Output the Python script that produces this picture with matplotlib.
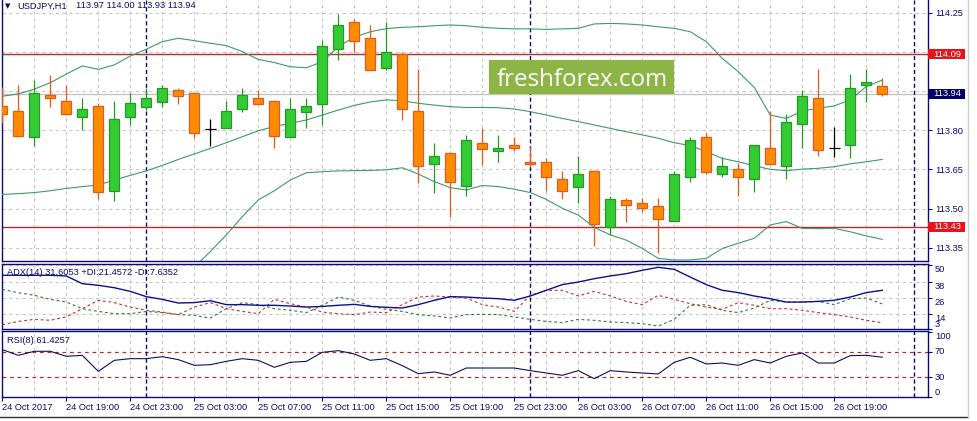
import matplotlib.pyplot as plt
from matplotlib.lines import Line2D
from matplotlib.patches import Rectangle

# USDJPY H1, bars from 24 Oct 15:00 to 26 Oct 22:00
opens = [113.893, 113.873, 113.773, 113.933, 113.910, 113.852, 113.891, 113.568, 113.852, 113.890,
         113.909, 113.953, 113.941, 113.803, 113.810, 113.880, 113.922, 113.910, 113.773, 113.871,
         113.902, 114.112, 114.213, 114.152, 114.039, 114.091, 113.873, 113.669, 113.711, 113.588,
         113.750, 113.722, 113.742, 113.679, 113.679, 113.612, 113.581, 113.644, 113.430, 113.531,
         113.520, 113.511, 113.451, 113.619, 113.773, 113.631, 113.650, 113.612, 113.730, 113.662,
         113.822, 113.922, 113.733, 113.742, 113.973, 113.970]
highs = [113.964, 113.973, 113.992, 114.011, 113.972, 113.922, 113.903, 113.912, 113.941, 113.963,
         113.973, 113.960, 113.941, 113.843, 113.912, 113.960, 113.954, 113.910, 113.922, 113.922,
         114.145, 114.244, 114.226, 114.203, 114.214, 114.101, 114.034, 113.750, 113.711, 113.781,
         113.807, 113.781, 113.775, 113.737, 113.692, 113.644, 113.701, 113.648, 113.549, 113.539,
         113.539, 113.539, 113.644, 113.773, 113.791, 113.699, 113.673, 113.742, 113.873, 113.861,
         113.954, 114.034, 113.811, 114.015, 114.034, 114.000]
lows = [113.829, 113.773, 113.741, 113.890, 113.858, 113.801, 113.536, 113.530, 113.820, 113.877,
        113.890, 113.900, 113.771, 113.741, 113.807, 113.871, 113.902, 113.730, 113.773, 113.810,
        113.820, 114.069, 114.099, 114.032, 114.032, 113.839, 113.599, 113.561, 113.469, 113.549,
        113.667, 113.679, 113.722, 113.660, 113.568, 113.536, 113.520, 113.358, 113.399, 113.450,
        113.488, 113.328, 113.451, 113.600, 113.632, 113.619, 113.549, 113.562, 113.669, 113.612,
        113.730, 113.700, 113.699, 113.692, 113.909, 113.930]
closes = [113.861, 113.779, 113.941, 113.922, 113.861, 113.880, 113.562, 113.842, 113.903, 113.922,
          113.960, 113.932, 113.791, 113.803, 113.874, 113.933, 113.902, 113.779, 113.880, 113.891,
          114.121, 114.202, 114.143, 114.032, 114.101, 113.880, 113.662, 113.700, 113.600, 113.761,
          113.728, 113.732, 113.731, 113.669, 113.619, 113.568, 113.632, 113.439, 113.538, 113.514,
          113.501, 113.459, 113.631, 113.761, 113.641, 113.662, 113.619, 113.742, 113.669, 113.830,
          113.932, 113.723, 113.733, 113.960, 113.983, 113.940]

bb_upper = [113.930, 113.939, 113.957, 113.982, 114.015, 114.046, 114.033, 114.050, 114.084, 114.110,
            114.139, 114.152, 114.143, 114.133, 114.124, 114.101, 114.071, 114.059, 114.043, 114.039,
            114.062, 114.120, 114.156, 114.177, 114.189, 114.194, 114.196, 114.200, 114.203, 114.200,
            114.194, 114.190, 114.188, 114.188, 114.186, 114.188, 114.190, 114.207, 114.209, 114.207,
            114.203, 114.196, 114.190, 114.177, 114.139, 114.075, 114.024, 113.964, 113.858, 113.845,
            113.873, 113.884, 113.893, 113.916, 113.967, 113.992]
bb_middle = [113.554, 113.557, 113.561, 113.568, 113.577, 113.584, 113.590, 113.609, 113.627, 113.644,
             113.665, 113.688, 113.709, 113.730, 113.752, 113.775, 113.798, 113.814, 113.826, 113.839,
             113.858, 113.877, 113.895, 113.908, 113.916, 113.913, 113.903, 113.896, 113.890, 113.887,
             113.887, 113.886, 113.881, 113.871, 113.858, 113.845, 113.833, 113.820, 113.807, 113.794,
             113.782, 113.769, 113.752, 113.741, 113.718, 113.692, 113.679, 113.664, 113.650, 113.645,
             113.651, 113.654, 113.660, 113.671, 113.679, 113.688]
bb_lower = [113.178, 113.175, 113.165, 113.154, 113.139, 113.122, 113.147, 113.168, 113.170, 113.178,
            113.191, 113.224, 113.275, 113.335, 113.399, 113.469, 113.533, 113.568, 113.609, 113.637,
            113.641, 113.644, 113.645, 113.646, 113.648, 113.656, 113.632, 113.603, 113.580, 113.571,
            113.588, 113.584, 113.574, 113.561, 113.535, 113.501, 113.475, 113.428, 113.399, 113.379,
            113.347, 113.309, 113.303, 113.303, 113.309, 113.347, 113.367, 113.386, 113.437, 113.450,
            113.424, 113.423, 113.424, 113.411, 113.395, 113.382]

adx = [42.7, 42.7, 42.7, 42.7, 42.2, 36.5, 35.3, 33.5, 30.8, 26.9,
       24.9, 22.2, 22.5, 23.9, 21.0, 21.0, 20.5, 20.5, 20.0, 19.2,
       19.7, 20.5, 21.2, 19.7, 19.0, 18.5, 21.0, 24.2, 26.9, 26.6,
       25.9, 25.4, 24.2, 27.4, 31.6, 35.8, 37.7, 40.2, 42.2, 43.9,
       46.4, 48.6, 47.1, 41.4, 35.8, 31.6, 29.9, 27.4, 25.4, 22.9,
       22.9, 23.4, 24.2, 26.6, 29.9, 31.6]
plus_di = [32.3, 29.8, 27.9, 24.9, 22.9, 18.0, 16.0, 14.3, 14.3, 16.0,
           15.1, 13.6, 13.1, 11.1, 18.0, 22.5, 21.0, 18.0, 16.8, 15.1,
           20.5, 26.6, 24.2, 20.0, 17.5, 16.0, 13.6, 12.6, 11.1, 13.6,
           13.8, 13.6, 11.9, 10.1, 8.6, 7.7, 10.1, 9.4, 8.2, 7.7,
           6.9, 5.2, 10.1, 20.5, 21.0, 16.8, 15.1, 18.5, 24.2, 22.9,
           22.9, 23.4, 21.0, 25.4, 25.9, 21.5]
minus_di = [6.2, 8.6, 10.1, 9.4, 11.9, 18.0, 24.2, 22.5, 19.2, 16.8,
            15.5, 13.6, 19.2, 22.5, 18.0, 16.0, 14.3, 24.9, 21.7, 19.2,
            15.5, 14.3, 13.6, 15.5, 15.1, 21.0, 26.6, 27.4, 26.6, 25.9,
            21.0, 19.2, 16.0, 27.9, 31.6, 31.6, 27.4, 30.8, 27.4, 23.4,
            21.0, 27.9, 24.9, 21.7, 19.2, 17.5, 22.5, 20.5, 18.0, 18.0,
            16.8, 15.1, 13.6, 11.9, 9.4, 7.6]
rsi = [73.2, 64.3, 70.6, 70.6, 62.8, 64.3, 39.3, 56.5, 59.1, 59.1,
       62.2, 57.6, 48.7, 49.7, 54.9, 59.1, 56.5, 45.6, 53.4, 54.9,
       69.0, 71.6, 66.4, 56.5, 59.1, 48.2, 35.7, 38.3, 33.1, 44.5,
       44.5, 44.5, 44.5, 40.4, 36.7, 33.1, 40.4, 27.9, 40.4, 38.3,
       36.7, 35.2, 53.4, 61.3, 50.8, 52.3, 48.7, 57.6, 52.3, 62.8,
       68.0, 52.3, 52.3, 63.8, 64.3, 61.4]

time_labels = ["24 Oct 2017", "24 Oct 19:00", "24 Oct 23:00", "25 Oct 03:00", "25 Oct 07:00",
               "25 Oct 11:00", "25 Oct 15:00", "25 Oct 19:00", "25 Oct 23:00", "26 Oct 03:00",
               "26 Oct 07:00", "26 Oct 11:00", "26 Oct 15:00", "26 Oct 19:00"]
day_breaks = [9, 33, 57]  # bar index of midnight
price_ticks = [114.25, 114.10, 113.95, 113.80, 113.65, 113.50, 113.35]
price_tick_labels = ["114.25", "", "", "113.80", "113.65", "113.50", "113.35"]
resistance = 114.09
support = 113.43
last_price = 113.94
adx_levels = [50, 38, 26, 14, 3]
rsi_levels = [70, 30]
rsi_ticks = [100, 70, 30, 0]

NAVY = "#0c0c70"
GRID = "#c8c8c8"
BULL, BULL_EDGE = "#33cc33", "#239a23"
BEAR, BEAR_EDGE = "#ff8c00", "#e8581a"
BAND = "#3d9a6b"
LEVEL_RED = "#c0282d"

plt.rcParams["font.family"] = ["Liberation Sans", "DejaVu Sans"]
plt.rcParams["font.size"] = 6.7

W, H = 977, 421
fig = plt.figure(figsize=(W / 100, H / 100), dpi=100)


def panel(top, bottom):
    # rows in pixels -> figure fraction, every panel spans the same columns
    return fig.add_axes([2 / W, 1 - bottom / H, 926 / W, (bottom - top) / H])


def style_panel(ax):
    ax.set_xlim(-0.02, 57.86)
    for k in range(0, 58, 2):
        ax.axvline(k, color=GRID, lw=0.8, ls=(0, (3, 3)), zorder=0)
    for k in day_breaks:
        ax.axvline(k, color=NAVY, lw=1, ls=(0, (3, 2)), zorder=2)
    ax.yaxis.tick_right()
    ax.tick_params(axis="y", colors=NAVY, length=3, width=0.8, pad=2, labelsize=6.7)
    ax.tick_params(axis="x", bottom=False, labelbottom=False)
    for spine in ax.spines.values():
        spine.set_color(NAVY)
        spine.set_linewidth(1)


def price_box(ax, value, text, color):
    lo, hi = ax.get_ylim()
    half = 5 * (hi - lo) / 261
    ax.add_patch(Rectangle((1.0005, value - half), 37 / 926, 2 * half, transform=ax.get_yaxis_transform(),
                           fc=color, ec="none", clip_on=False, zorder=6))
    ax.text(1.0054, value, text, transform=ax.get_yaxis_transform(), color="white",
            va="center", ha="left", zorder=7, clip_on=False)


def draw_candles(ax):
    for i in range(len(opens)):
        o, h, l, c = opens[i], highs[i], lows[i], closes[i]
        if c == o:
            ax.vlines(i, l, h, color="black", lw=0.9, zorder=4)
            ax.hlines(c, i - 0.34, i + 0.34, color="black", lw=0.9, zorder=4)
            continue
        up = c > o
        edge = BULL_EDGE if up else BEAR_EDGE
        ax.vlines(i, l, h, color=edge, lw=0.9, zorder=4)
        ax.bar(i, abs(c - o), width=0.62, bottom=min(o, c), color=BULL if up else BEAR,
               edgecolor=edge, lw=0.9, zorder=5)


# price panel
ax = panel(0, 261)
style_panel(ax)
ax.spines["top"].set_visible(False)
ax.set_ylim(113.299, 114.2986)
for level in price_ticks:
    ax.axhline(level, color=GRID, lw=0.8, ls=(0, (3, 3)), zorder=0)
ax.set_yticks(price_ticks, price_tick_labels)
ax.axhline(last_price, color="#c4c4c4", lw=1, zorder=1)
ax.axhline(resistance, color=LEVEL_RED, lw=1, zorder=1)
ax.axhline(support, color=LEVEL_RED, lw=1, zorder=1)
bars = range(len(opens))
for band in (bb_upper, bb_middle, bb_lower):
    ax.plot(bars, band, color=BAND, lw=0.8, zorder=3)
draw_candles(ax)
price_box(ax, resistance, f"{resistance:.2f}", "#e8141b")
price_box(ax, support, f"{support:.2f}", "#e8141b")
price_box(ax, last_price, f"{last_price:.2f}", "#000066")

# ADX panel
ax_adx = panel(263.5, 329)
style_panel(ax_adx)
ax_adx.set_ylim(2.98, 51.42)
for level in adx_levels[:-1]:
    ax_adx.axhline(level, color=GRID, lw=0.8, ls=(0, (3, 3)), zorder=0)
ax_adx.set_yticks(adx_levels, [str(v) for v in adx_levels])
for lbl in ax_adx.get_yticklabels():
    lbl.set_verticalalignment("bottom" if lbl.get_text() == "3" else "top")
ax_adx.plot(bars, plus_di, color="#2e7d32", lw=0.8, ls=(0, (2.5, 2.5)), zorder=3)
ax_adx.plot(bars, minus_di, color="#cc2a2a", lw=0.8, ls=(0, (2.5, 2.5)), zorder=3)
ax_adx.plot(bars, adx, color="#10108c", lw=1, zorder=4)

# RSI panel
ax_rsi = panel(331, 397)
style_panel(ax_rsi)
ax_rsi.set_ylim(-0.78, 102.3)
for level in rsi_levels:
    ax_rsi.axhline(level, color="#b03030", lw=0.9, ls=(0, (3, 3)), zorder=1)
ax_rsi.set_yticks(rsi_ticks, [str(v) for v in rsi_ticks])
for lbl, va in zip(ax_rsi.get_yticklabels(), ["top", "center", "center", "bottom"]):
    lbl.set_verticalalignment(va)
ax_rsi.plot(bars, rsi, color="#10105a", lw=0.8, zorder=3)
ax_rsi.set_xticks(range(0, 4 * len(time_labels), 4), time_labels, ha="left")
ax_rsi.tick_params(axis="x", bottom=True, labelbottom=True, colors=NAVY, length=3, width=0.8, pad=1.5)

# headers
fig.text(5 / W, 1 - 6 / H, "\u25bc", family="DejaVu Sans", fontsize=5, color=NAVY, va="center")
fig.text(17 / W, 1 - 6 / H, "USDJPY,H1", color=NAVY, va="center")
fig.text(75.5 / W, 1 - 6 / H, "113.97 114.00 113.93 113.94", color=NAVY, va="center")
fig.text(7 / W, 1 - 272.7 / H, "ADX(14) 31.6053 +DI:21.4572 -DI:7.6352", color=NAVY, va="center")
fig.text(7 / W, 1 - 340.7 / H, "RSI(8) 61.4257", color=NAVY, va="center")

# watermark
fig.add_artist(Rectangle((489 / W, 1 - 94 / H), 185 / W, 34 / H, transform=fig.transFigure,
                         fc="#8cb545", ec="none", zorder=8))
fig.text(582 / W, 1 - 86 / H, "freshforex.com", family="Open Sans", fontsize=17.4,
         color="white", ha="center", va="baseline", zorder=9)

# terminal frame
fig.add_artist(Line2D([0, 968 / W], [1 - 416.5 / H] * 2, color="#303030", lw=1))
fig.add_artist(Line2D([968 / W] * 2, [1 - 416.5 / H, 1], color="#d0d0d0", lw=1))

fig.savefig("out.png", dpi=100, facecolor="white")
